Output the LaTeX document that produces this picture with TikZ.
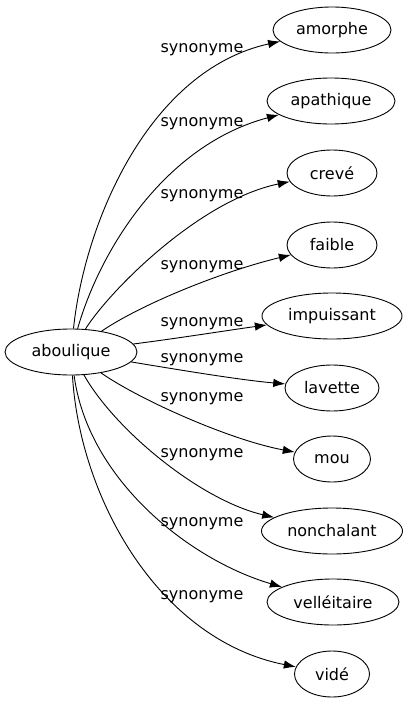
\documentclass[tikz,border=0pt]{standalone}
\usepackage{fontspec}
\setmainfont{DejaVu Sans}
\usetikzlibrary{arrows.meta, shapes.geometric}

\begin{document}
\begin{tikzpicture}[x=1pt, y=-1pt, >={Latex[length=12pt,width=8.5pt]},
  word/.style={draw, ellipse, line width=0.9pt, inner sep=0pt, minimum height=46pt, font=\fontsize{16}{19}\selectfont},
  syn/.style={inner sep=0pt, font=\fontsize{16}{19}\selectfont},
  edge/.style={->, line width=0.9pt}]
  \useasboundingbox (0,0) rectangle (409,707);
  \node[word, minimum width=132pt] (ab) at (71,352) {aboulique};
  \node[word, minimum width=118pt] (amorphe) at (332,30) {amorphe};
  \node[word, minimum width=128pt] (apathique) at (331,101) {apathique};
  \node[word, minimum width=90pt] (creve) at (332,173) {crevé};
  \node[word, minimum width=90pt] (faible) at (332,245) {faible};
  \node[word, minimum width=140pt] (impuissant) at (332,316) {impuissant};
  \node[word, minimum width=94pt] (lavette) at (332,388) {lavette};
  \node[word, minimum width=77pt] (mou) at (332,459) {mou};
  \node[word, minimum width=141pt] (nonchalant) at (332,531) {nonchalant};
  \node[word, minimum width=132pt] (velleitaire) at (333,602) {velléitaire};
  \node[word, minimum width=75pt] (vide) at (332,674) {vidé};

  \draw[edge] (ab) .. controls (85,220) and (150,70) .. (amorphe);
  \draw[edge] (ab) .. controls (100,250) and (165,145) .. (apathique);
  \draw[edge] (ab) .. controls (110,290) and (200,200) .. (creve);
  \draw[edge] (ab) .. controls (140,305) and (220,272) .. (faible);
  \draw[edge] (ab) .. controls (180,338) and (230,330) .. (impuissant);
  \draw[edge] (ab) .. controls (180,370) and (240,380) .. (lavette);
  \draw[edge] (ab) .. controls (140,400) and (230,440) .. (mou);
  \draw[edge] (ab) .. controls (115,430) and (200,500) .. (nonchalant);
  \draw[edge] (ab) .. controls (88,480) and (190,560) .. (velleitaire);
  \draw[edge] (ab) .. controls (80,500) and (160,640) .. (vide);

  \node[syn] (s1) at (202,50) {synonyme};
  \node[syn] (s2) at (202,124) {synonyme};
  \node[syn] (s3) at (202,196) {synonyme};
  \node[syn] (s4) at (202,267) {synonyme};
  \node[syn] (s5) at (202,324) {synonyme};
  \node[syn] (s6) at (202,360) {synonyme};
  \node[syn] (s7) at (202,399) {synonyme};
  \node[syn] (s8) at (202,455) {synonyme};
  \node[syn] (s9) at (202,524) {synonyme};
  \node[syn] (s10) at (202,597) {synonyme};
\end{tikzpicture}
\end{document}
